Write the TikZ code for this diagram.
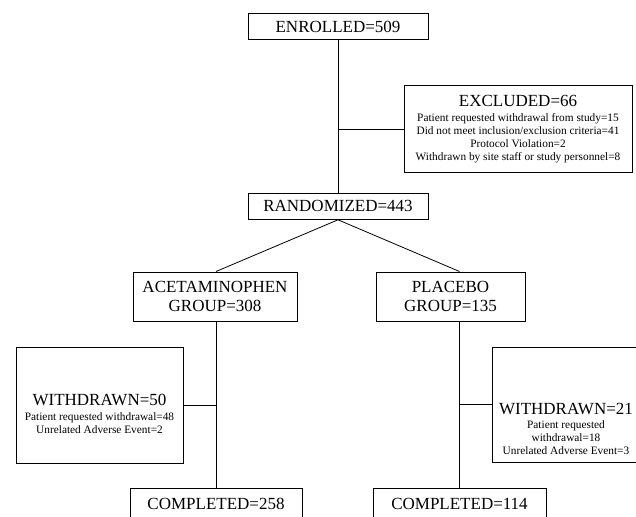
\documentclass[tikz,border=0pt]{standalone}
\usepackage{fontspec}
\setmainfont{Liberation Serif}
\newcommand{\boxhead}{\fontsize{12.75}{13.7}\selectfont}
\newcommand{\boxnote}{\fontsize{8.5}{9.75}\selectfont}
\tikzset{
	box/.style={draw, line width=0.75pt, inner sep=0pt, align=center, font=\boxhead},
	note/.style={inner sep=0pt, align=center, font=\boxnote},
	link/.style={line width=0.6pt}
}
\begin{document}
\begin{tikzpicture}[x=0.75pt, y=-0.75pt]
	\useasboundingbox (0,0) rectangle (636,517);
	\clip (0,0) rectangle (636,517);
	\node[box, minimum width=135pt, minimum height=19.5pt] (enrolled) at (338,27) {ENROLLED=509};
	\node[box, font=\boxnote, minimum width=171pt, minimum height=64.5pt] (excluded) at (518,129) {{\boxhead EXCLUDED=66}\\[1pt]
		Patient requested withdrawal from study=15\\
		Did not meet inclusion/exclusion criteria=41\\
		Protocol Violation=2\\
		Withdrawn by site staff or study personnel=8};
	\node[box, minimum width=135pt, minimum height=19.5pt] (randomized) at (338,206.3) {RANDOMIZED=443};
	\node[box, minimum width=123pt, minimum height=36.75pt] (acet) at (215,296.5) {ACETAMINOPHEN\\GROUP=308};
	\node[box, minimum width=111.75pt, minimum height=36.75pt] (placebo) at (450.5,296.5) {PLACEBO\\GROUP=135};
	\node[box, minimum width=125.25pt, minimum height=87pt] (wdA) at (99.5,405) {};
	\node[note] (wdAtext) at (99.5,414) {{\boxhead WITHDRAWN=50}\\[1.75pt]
		Patient requested withdrawal=48\\
		Unrelated Adverse Event=2};
	\node[box, minimum width=111pt, minimum height=86.25pt] (wdB) at (566,404.5) {};
	\node[note] (wdBtext) at (566,429) {{\boxhead WITHDRAWN=21}\\[0.5pt]
		Patient requested\\
		withdrawal=18\\
		Unrelated Adverse Event=3};
	\node[box, minimum width=129pt, minimum height=24pt] (compA) at (216,504) {COMPLETED=258};
	\node[box, minimum width=129.75pt, minimum height=24pt] (compB) at (459.5,504) {COMPLETED=114};
	\coordinate (exJoin) at (enrolled.south |- excluded.west);
	\coordinate (acetTop) at (acet.north -| compA.north);
	\coordinate (acetBot) at (acet.south -| compA.north);
	\coordinate (placTop) at (placebo.north -| compB.north);
	\coordinate (placBot) at (placebo.south -| compB.north);
	\coordinate (wdAJoin) at (compA.north |- wdA.east);
	\coordinate (wdBJoin) at (compB.north |- wdB.west);
	\draw[link] (enrolled) -- (randomized);
	\draw[link] (exJoin) -- (excluded.west);
	\draw[link] (randomized.south) -- (acetTop);
	\draw[link] (randomized.south) -- (placTop);
	\draw[link] (acetBot) -- (compA.north);
	\draw[link] (placBot) -- (compB.north);
	\draw[link] (wdA.east) -- (wdAJoin);
	\draw[link] (wdBJoin) -- (wdB.west);
\end{tikzpicture}
\end{document}
